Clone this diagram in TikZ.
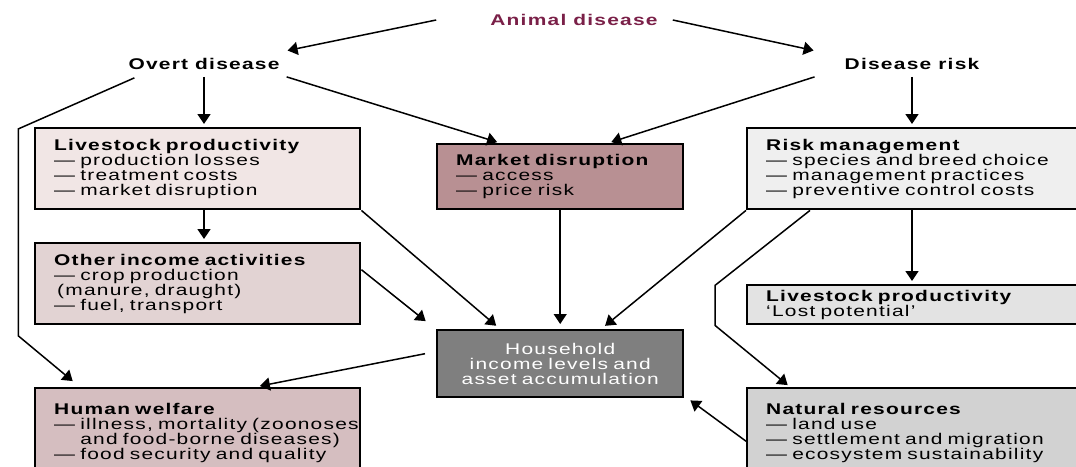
\documentclass[tikz,border=0pt]{standalone}
\usepackage{fontspec}
\setmainfont{Liberation Sans}[FakeStretch=1.35,LetterSpace=8]
\usepackage{tikz}
\usepackage{xcolor}
\usetikzlibrary{arrows.meta,calc}
\definecolor{disease-red}{HTML}{7A2048}
\definecolor{prod-fill}{HTML}{F1E6E5}
\definecolor{market-fill}{HTML}{B89093}
\definecolor{risk-fill}{HTML}{EFEFEF}
\definecolor{income-fill}{HTML}{E2D3D3}
\definecolor{house-fill}{HTML}{7F7F7F}
\definecolor{lost-fill}{HTML}{E3E3E3}
\definecolor{welfare-fill}{HTML}{D5BEC0}
\definecolor{nature-fill}{HTML}{D2D2D2}
\tikzset{
    flow-box/.style = {draw=black, line width=2.4pt, rectangle, anchor=north west, inner xsep=19pt, inner ysep=0pt, align=left, font=\fontsize{15.5}{15}\selectfont},
    flow-label/.style = {inner sep=0pt, font=\fontsize{15.5}{15}\selectfont\bfseries},
    flow-arrow/.style = {-{Triangle[length=10pt,width=13pt]}, line width=1.5pt, shorten >=3pt},
}

\begin{document}
\begin{tikzpicture}[x=1pt,y=-1pt]
\useasboundingbox (0,0) rectangle (1076,466);
% top level
\node[flow-label, text=disease-red] (ad) at (574,20) {Animal disease};
\node[flow-label] (od) at (204,64) {Overt disease};
\node[flow-label] (dr) at (912,64) {Disease risk};
% boxes
\node[flow-box, fill=prod-fill, text width=287pt, minimum height=81pt] (lp) at (34,127) {\textbf{Livestock productivity}\\
    — production losses\\— treatment costs\\— market disruption};
\node[flow-box, fill=market-fill, text width=208pt, minimum height=65pt] (md) at (436,143) {\textbf{Market disruption}\\
    — access\\— price risk};
\node[flow-box, fill=risk-fill, text width=326pt, minimum height=81pt] (rm) at (746,127) {\textbf{Risk management}\\
    — species and breed choice\\— management practices\\— preventive control costs};
\node[flow-box, fill=income-fill, text width=287pt, minimum height=81pt] (oi) at (34,242) {\textbf{Other income activities}\\
    — crop production\\\hspace*{3pt}(manure, draught)\\— fuel, transport};
\node[flow-box, fill=house-fill, text=white, align=center, text width=208pt, minimum height=67pt] (hh) at (436,329) {Household\\
    income levels and\\asset accumulation};
\node[flow-box, fill=lost-fill, text width=326pt, minimum height=39pt] (lpr) at (746,284) {\textbf{Livestock productivity}\\
    ‘Lost potential’};
\node[flow-box, fill=welfare-fill, text width=287pt, minimum height=90pt] (hw) at (34,387) {\textbf{Human welfare}\\
    \mbox{— illness, mortality (zoonoses}\\\phantom{— }and food-borne diseases)\\— food security and quality};
\node[flow-box, fill=nature-fill, text width=326pt, minimum height=90pt] (nr) at (746,387) {\textbf{Natural resources}\\
    — land use\\— settlement and migration\\— ecosystem sustainability};
% connectors
\draw[flow-arrow] ($(ad.west)+(-54,0)$) -- ($(od.north east)+(5,-7)$);
\draw[flow-arrow] ($(ad.east)+(15,0)$) -- ($(dr.north west)+(-28,-7)$);
\draw[flow-arrow, shorten <=7pt] (od.south) -- (od.south |- lp.north);
\draw[flow-arrow] ($(od.south east)+(7,7)$) -- ($(md.north west)+(64,0)$);
\draw[flow-arrow] ($(od.south west)+(6,8)$) -- ++(-116,51) -- ++(0,207) -- ($(hw.north west)+(41,-4)$);
\draw[flow-arrow] ($(dr.south west)+(-30,7)$) -- ($(md.north east)+(-76,0)$);
\draw[flow-arrow, shorten <=7pt] (dr.south) -- (dr.south |- rm.north);
\draw[flow-arrow] (od.south |- lp.south) -- (od.south |- oi.north);
\draw[flow-arrow, shorten >=5pt] (lp.south east) -- ($(hh.north west)+(64,0)$);
\draw[flow-arrow] ($(oi.east)+(0,-14)$) -- ($(hh.north west)+(-8,-6)$);
\draw[flow-arrow, shorten >=5pt] (md.south) -- (md.south |- hh.north);
\draw[flow-arrow, shorten >=5pt] (rm.south west) -- ($(hh.north)+(41,0)$);
\draw[flow-arrow] ($(rm.south west)+(64,0)$) -- ++(-95,75) -- ++(0,40) -- ($(nr.north west)+(44,0)$);
\draw[flow-arrow] (dr.south |- rm.south) -- (dr.south |- lpr.north);
\draw[flow-arrow, shorten >=0pt] ($(nr.west)+(0,8)$) -- ($(hh.south east)+(6,2)$);
\draw[flow-arrow, shorten >=5pt] ($(hh.west)+(-11,-10)$) -- ($(hw.north west)+(221,0)$);
\end{tikzpicture}
\end{document}
